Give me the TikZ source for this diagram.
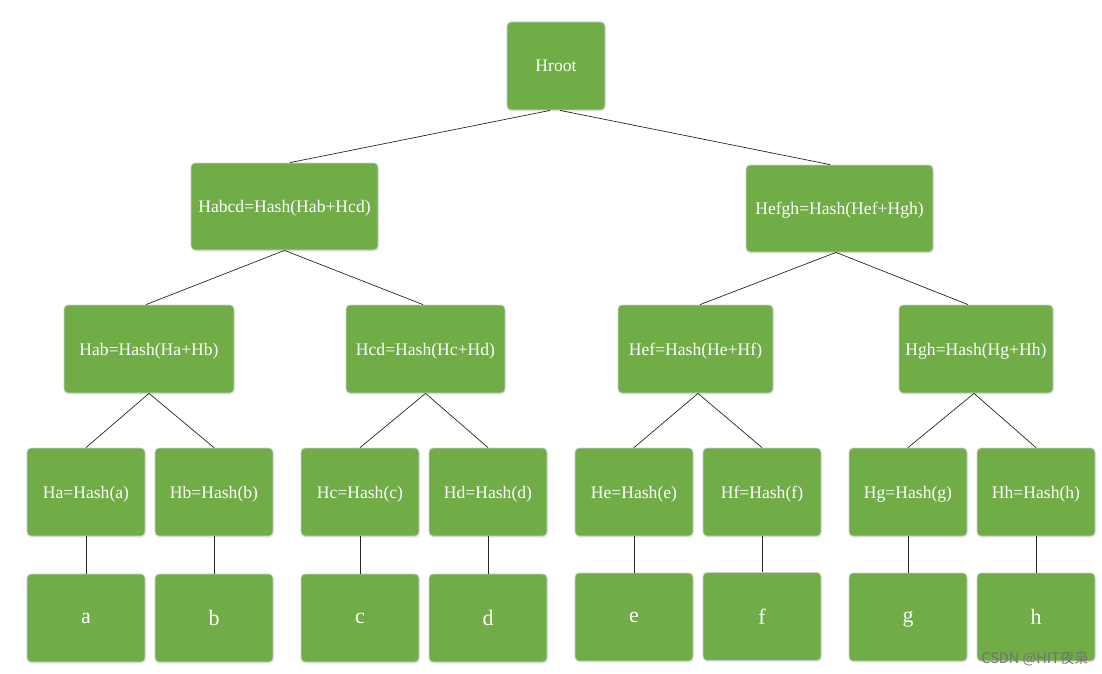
\documentclass[tikz,border=0pt]{standalone}
\usepackage{fontspec}
\setmainfont{Liberation Serif}
\newfontfamily\cjkfont{Noto Sans CJK SC}
\usetikzlibrary{shadows}
\definecolor{boxgreen}{HTML}{70AD47}
\definecolor{boxedge}{HTML}{C9CFD6}
\begin{document}
\begin{tikzpicture}[x=1pt,y=-1pt,
  gbox/.style={draw=boxedge, line width=0.8pt, fill=boxgreen, rounded corners=4pt,
    text=white, font=\fontsize{17.6}{19}\selectfont, text depth=0pt,
    drop shadow={shadow xshift=0.6pt, shadow yshift=-1.6pt, fill=black!8, opacity=1}},
  leafbox/.style={gbox, font=\fontsize{22}{24}\selectfont},
  link/.style={draw=black!85, line width=0.7pt}]
\useasboundingbox (0,0) rectangle (1102,674);
% Root
\node[gbox, minimum width=98pt, minimum height=88pt] (root) at (556,66) {Hroot};
% Level 1
\node[gbox, minimum width=187pt, minimum height=87pt] (abcd) at (284.5,206.5) {Habcd=Hash(Hab+Hcd)};
\node[gbox, minimum width=187pt, minimum height=87pt] (efgh) at (839.5,208.5) {Hefgh=Hash(Hef+Hgh)};
% Level 2
\node[gbox, minimum width=170pt, minimum height=88pt] (ab) at (149,349) {Hab=Hash(Ha+Hb)};
\node[gbox, minimum width=159pt, minimum height=88pt] (cd) at (425.5,349) {Hcd=Hash(Hc+Hd)};
\node[gbox, minimum width=155pt, minimum height=88pt] (ef) at (695.5,349) {Hef=Hash(He+Hf)};
\node[gbox, minimum width=154pt, minimum height=88pt] (gh) at (976,349) {Hgh=Hash(Hg+Hh)};
% Level 3
\foreach \n/\x/\t in {ha/86/Ha=Hash(a), hb/214/Hb=Hash(b), hc/360/Hc=Hash(c), hd/488/Hd=Hash(d),
                      he/634/He=Hash(e), hf/762/Hf=Hash(f), hg/908/Hg=Hash(g), hh/1036/Hh=Hash(h)}
  \node[gbox, minimum width=118pt, minimum height=88pt] (\n) at (\x,492) {\t};
% Data
\foreach \n/\x/\y/\t in {da/86/618/a, db/214/618/b, dc/360/618/c, dd/488/618/d,
                         de/634/617/e, df/762/616.5/f, dg/908/617/g, dh/1036/617/h}
  \node[leafbox, minimum width=118pt, minimum height=88pt] (\n) at (\x,\y) {\t};
% Links
\draw[link] ([xshift=-6pt]root.south) -- ([xshift=5.5pt]abcd.north);
\draw[link] ([xshift=4pt]root.south) -- ([xshift=-9.5pt]efgh.north);
\draw[link] (abcd.south) -- ([xshift=-3pt]ab.north);
\draw[link] (abcd.south) -- ([xshift=-2.5pt]cd.north);
\draw[link] ([xshift=-3.5pt]efgh.south) -- ([xshift=4.5pt]ef.north);
\draw[link] ([xshift=-3.5pt]efgh.south) -- ([xshift=-8pt]gh.north);
\draw[link] (ab.south) -- (ha.north);
\draw[link] (ab.south) -- (hb.north);
\draw[link] (cd.south) -- (hc.north);
\draw[link] (cd.south) -- (hd.north);
\draw[link] ([xshift=2.5pt]ef.south) -- (he.north);
\draw[link] ([xshift=2.5pt]ef.south) -- (hf.north);
\draw[link] ([xshift=-2pt]gh.south) -- (hg.north);
\draw[link] ([xshift=-2pt]gh.south) -- (hh.north);
\foreach \a/\b in {ha/da, hb/db, hc/dc, hd/dd, he/de, hf/df, hg/dg, hh/dh}
  \draw[link] (\a.south) -- (\b.north);
% Watermark
\node[anchor=base east, text=black!55, font=\cjkfont\fontsize{14.5}{16}\selectfont, inner sep=0pt] (wm) at (1089,663) {CSDN @HIT夜枭};
\end{tikzpicture}
\end{document}
